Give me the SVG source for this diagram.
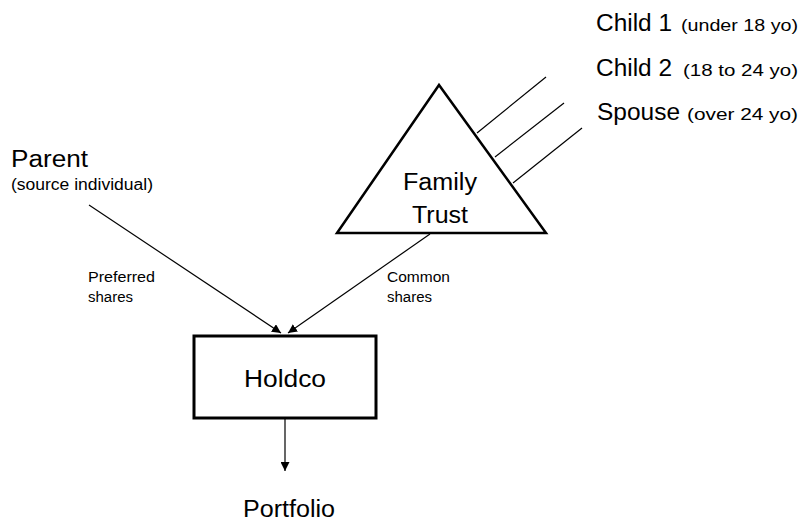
<svg xmlns="http://www.w3.org/2000/svg" width="804" height="525" viewBox="0 0 804 525">
  <defs>
    <marker id="arrow" viewBox="0 0 10 10" refX="10" refY="5" markerWidth="9" markerHeight="9" markerUnits="userSpaceOnUse" orient="auto">
      <path d="M0,0 L10,5 L0,10 Z" fill="#000"/>
    </marker>
    <style>
      text { font-family: "Liberation Sans", Arial, sans-serif; fill: #000; }
      .big { font-size: 23px; }
      .small { font-size: 16px; }
      .lbl { font-size: 14px; }
      .link { stroke: #000; stroke-width: 1.2; fill: none; }
    </style>
  </defs>
  <rect width="804" height="525" fill="#fff"/>

  <!-- connectors -->
  <g id="connectors">
    <line class="link" x1="89" y1="205" x2="281" y2="333" marker-end="url(#arrow)"/>
    <line class="link" x1="430" y1="234" x2="288" y2="333" marker-end="url(#arrow)"/>
    <line class="link" x1="285" y1="419" x2="285" y2="471" marker-end="url(#arrow)"/>
    <line class="link" x1="477" y1="133" x2="546" y2="77"/>
    <line class="link" x1="495" y1="157" x2="564" y2="103"/>
    <line class="link" x1="513" y1="183" x2="582" y2="128"/>
  </g>

  <!-- beneficiaries -->
  <g id="child1">
    <text x="596" y="31" class="big" textLength="76" lengthAdjust="spacingAndGlyphs">Child 1</text>
    <text x="681" y="31" class="small" textLength="117" lengthAdjust="spacingAndGlyphs">(under 18 yo)</text>
  </g>
  <g id="child2">
    <text x="596" y="76" class="big" textLength="76" lengthAdjust="spacingAndGlyphs">Child 2</text>
    <text x="683" y="76" class="small" textLength="115" lengthAdjust="spacingAndGlyphs">(18 to 24 yo)</text>
  </g>
  <g id="spouse">
    <text x="597" y="120" class="big" textLength="83" lengthAdjust="spacingAndGlyphs">Spouse</text>
    <text x="687" y="120" class="small" textLength="111" lengthAdjust="spacingAndGlyphs">(over 24 yo)</text>
  </g>

  <!-- family trust -->
  <g id="family-trust">
    <polygon points="439,85 337,233 546,233" fill="#fff" stroke="#000" stroke-width="2.5" stroke-linejoin="miter"/>
    <text x="440" y="190" class="big" text-anchor="middle" textLength="74" lengthAdjust="spacingAndGlyphs">Family</text>
    <text x="440" y="223" class="big" text-anchor="middle" textLength="56" lengthAdjust="spacingAndGlyphs">Trust</text>
  </g>

  <!-- parent -->
  <g id="parent">
    <text x="11" y="167" class="big" textLength="77" lengthAdjust="spacingAndGlyphs">Parent</text>
    <text x="11" y="190" class="small" textLength="142" lengthAdjust="spacingAndGlyphs">(source individual)</text>
  </g>

  <!-- share labels -->
  <g id="preferred-label">
    <text x="88" y="282" class="lbl" textLength="67" lengthAdjust="spacingAndGlyphs">Preferred</text>
    <text x="88" y="302" class="lbl" textLength="45" lengthAdjust="spacingAndGlyphs">shares</text>
  </g>
  <g id="common-label">
    <text x="387" y="282" class="lbl" textLength="63" lengthAdjust="spacingAndGlyphs">Common</text>
    <text x="387" y="302" class="lbl" textLength="45" lengthAdjust="spacingAndGlyphs">shares</text>
  </g>

  <!-- holdco -->
  <g id="holdco">
    <rect x="194" y="336" width="182" height="82" fill="#fff" stroke="#000" stroke-width="3"/>
    <text x="285" y="387" class="big" text-anchor="middle" textLength="82" lengthAdjust="spacingAndGlyphs">Holdco</text>
  </g>

  <!-- portfolio -->
  <g id="portfolio">
    <text x="289" y="517" class="big" text-anchor="middle" textLength="92" lengthAdjust="spacingAndGlyphs">Portfolio</text>
  </g>
</svg>
